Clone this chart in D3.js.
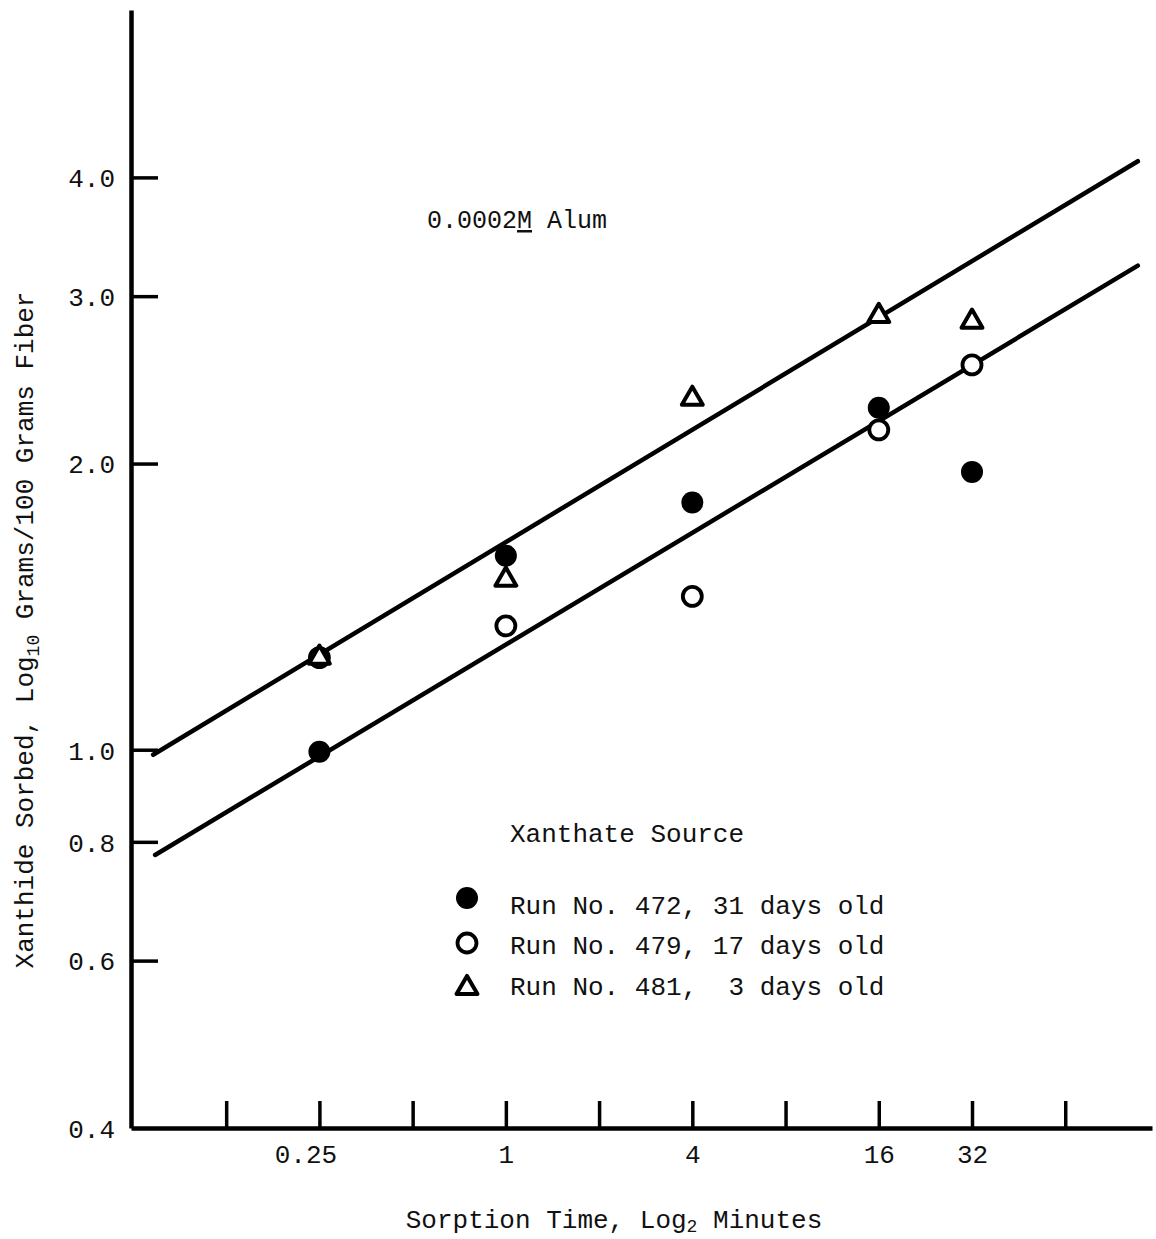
<!DOCTYPE html>
<html>
<head>
<meta charset="utf-8">
<script src="https://cdn.jsdelivr.net/npm/d3@7"></script>
<style>
  html, body { margin: 0; padding: 0; background: #fff; }
  svg { display: block; }
  text { font-family: 'Liberation Mono', 'Courier New', monospace; fill: #111; white-space: pre; }
</style>
</head>
<body>
<div id="chart"></div>
<script>
// sorption time (minutes) for every run
const minutes = [0.25, 1, 4, 16, 32];

// xanthide sorbed, grams / 100 grams fiber
const run472 = [0.995, 1.60, 1.82, 2.29, 1.96];
const run479 = [1.25, 1.35, 1.45, 2.17, 2.54];
const run481 = [1.25, 1.51, 2.34, 2.86, 2.82];

const seriesLabels = [
  'Run No. 472, 31 days old',
  'Run No. 479, 17 days old',
  'Run No. 481,  3 days old'
];

// fitted lines, end points
const upperFitTime = [0.0726, 109.8];
const upperFitValue = [0.988, 4.16];
const lowerFitTime = [0.0737, 109.8];
const lowerFitValue = [0.775, 3.23];

const xTickValues = [0.125, 0.25, 0.5, 1, 2, 4, 8, 16, 32, 64];
const xLabelValues = [0.25, 1, 4, 16, 32];
const xLabelTexts = ['0.25', '1', '4', '16', '32'];
const yTickValues = [0.4, 0.6, 0.8, 1.0, 2.0, 3.0, 4.0];

const width = 1156;
const height = 1239;

const svg = d3.select('#chart').append('svg')
  .attr('width', width)
  .attr('height', height);

const x = d3.scaleLog().base(2)
  .domain([0.0616, 122])
  .range([131, 1152]);

const y = d3.scaleLog()
  .domain([0.4, 6.0])
  .range([1128, 10]);

// axes
const xAxis = svg.append('g')
  .attr('class', 'axis axis-x')
  .attr('transform', 'translate(0,1128)')
  .call(d3.axisBottom(x)
    .tickValues(xTickValues)
    .tickSizeInner(-27)
    .tickSizeOuter(0)
    .tickPadding(17)
    .tickFormat(d => {
      const i = xLabelValues.indexOf(d);
      return i < 0 ? '' : xLabelTexts[i];
    }));

const yAxis = svg.append('g')
  .attr('class', 'axis axis-y')
  .attr('transform', 'translate(131,0)')
  .call(d3.axisLeft(y)
    .tickValues(yTickValues)
    .tickSizeInner(-27)
    .tickSizeOuter(0)
    .tickPadding(16)
    .tickFormat(d3.format('.1f')));

svg.selectAll('.axis .domain')
  .attr('stroke', '#000')
  .attr('stroke-width', 4.5);
svg.selectAll('.axis .tick line')
  .attr('stroke', '#000')
  .attr('stroke-width', 3.5);
svg.selectAll('.axis .tick text')
  .attr('font-size', 26)
  .attr('fill', '#111');
// 0.4 sits on the x axis, no tick mark
yAxis.selectAll('.tick')
  .filter(d => d === 0.4)
  .select('line').remove();
yAxis.selectAll('.tick text').attr('dy', '0.36em');
xAxis.selectAll('.tick text')
  .attr('dx', d => d === 0.25 ? -14 : 0);

// fitted lines
const line = d3.line()
  .x(d => x(d[0]))
  .y(d => y(d[1]));

[[upperFitTime, upperFitValue], [lowerFitTime, lowerFitValue]].forEach(([t, v]) => {
  svg.append('path')
    .datum(d3.zip(t, v))
    .attr('d', line)
    .attr('fill', 'none')
    .attr('stroke', '#000')
    .attr('stroke-width', 4.5)
    .attr('stroke-linecap', 'round');
});

// markers
const triangle = d3.symbol().type(d3.symbolTriangle).size(190);

function drawFilled(sel) {
  sel.append('circle').attr('r', 11).attr('fill', '#000');
}
function drawOpen(sel) {
  sel.append('circle').attr('r', 9.5)
    .attr('fill', '#fff').attr('stroke', '#000').attr('stroke-width', 3.8);
}
function drawTriangle(sel) {
  sel.append('path').attr('d', triangle)
    .attr('fill', '#fff').attr('stroke', '#000').attr('stroke-width', 4)
    .attr('stroke-linejoin', 'round');
}

const series = [
  {values: run472, draw: drawFilled},
  {values: run479, draw: drawOpen},
  {values: run481, draw: drawTriangle}
];

series.forEach(s => {
  svg.append('g').selectAll('g')
    .data(d3.zip(minutes, s.values))
    .join('g')
    .attr('transform', d => 'translate(' + x(d[0]) + ',' + y(d[1]) + ')')
    .call(s.draw);
});

// annotation
const note = svg.append('text')
  .attr('x', 427)
  .attr('y', 228)
  .attr('font-size', 25);
note.append('tspan').text('0.0002');
note.append('tspan').text('M').attr('text-decoration', 'underline');
note.append('tspan').text(' Alum');

// legend
const legend = svg.append('g').attr('transform', 'translate(467,0)');
legend.append('text')
  .attr('x', 43)
  .attr('y', 842)
  .attr('font-size', 26)
  .text('Xanthate Source');

const legendRows = [905, 945, 986];
const legendShift = [-7, -2, 2];
series.forEach((s, i) => {
  const row = legend.append('g')
    .attr('transform', 'translate(0,' + legendRows[i] + ')');
  row.append('g')
    .attr('transform', 'translate(0,' + legendShift[i] + ')')
    .call(s.draw);
  row.append('text')
    .attr('x', 43)
    .attr('y', 9)
    .attr('font-size', 26)
    .text(seriesLabels[i]);
});

// axis titles
const yTitle = svg.append('text')
  .attr('transform', 'translate(33,630) rotate(-90)')
  .attr('text-anchor', 'middle')
  .attr('font-size', 26);
yTitle.append('tspan').text('Xanthide Sorbed, Log');
yTitle.append('tspan').text('10').attr('font-size', 18).attr('dy', 6);
yTitle.append('tspan').text(' Grams/100 Grams Fiber').attr('dy', -6);

const xTitle = svg.append('text')
  .attr('x', 614)
  .attr('y', 1228)
  .attr('text-anchor', 'middle')
  .attr('font-size', 26);
xTitle.append('tspan').text('Sorption Time, Log');
xTitle.append('tspan').text('2').attr('font-size', 18).attr('dy', 4);
xTitle.append('tspan').text(' Minutes').attr('dy', -4);
</script>
</body>
</html>
